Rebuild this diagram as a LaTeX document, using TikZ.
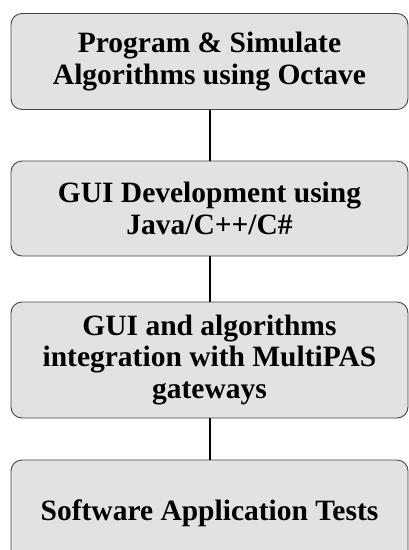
\documentclass[tikz,border=0pt]{standalone}
\usepackage{fontspec}
\setmainfont{Liberation Serif}
\usepackage{tikz}
\usetikzlibrary{positioning}
\usepackage{xcolor}

\definecolor{boxfill}{RGB}{226,226,226}
\definecolor{boxline}{RGB}{70,70,70}

\begin{document}
\begin{tikzpicture}[x=1pt, y=-1pt,
        stage/.style={draw=boxline, fill=boxfill, line width=0.9pt, rounded corners=11pt,
            minimum width=397pt, align=center, inner sep=0pt,
            font=\fontsize{29.5}{31.5}\selectfont\bfseries},
        link/.style={line width=2pt, black}]
        % Page frame
        \useasboundingbox (0,0) rectangle (408,550);

        % Stages
        \node[stage, minimum height=96pt] (prog) at (209.5, 61.5) {Program \& Simulate\\Algorithms using Octave};
        \node[stage, minimum height=95pt] (gui) at (209.5, 208.5) {GUI Development using\\Java/C++/C\#};
        \node[stage, minimum height=116pt] (integ) at (209.5, 360) {GUI and algorithms\\integration with MultiPAS\\gateways};
        \node[stage, minimum height=106pt] (tests) at (209.5, 513) {Software Application Tests};

        % Links
        \draw[link] (prog) -- (gui);
        \draw[link] (gui) -- (integ);
        \draw[link] (integ) -- (tests);
    \end{tikzpicture}
\end{document}
